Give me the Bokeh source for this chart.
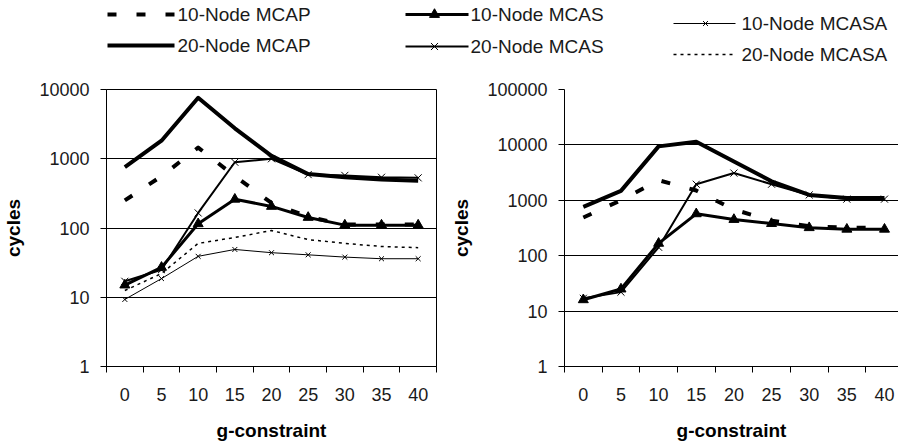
from bokeh.plotting import figure
from bokeh.layouts import column, row
from bokeh.models import Range1d, FixedTicker, PrintfTickFormatter
from bokeh.core.properties import value
from bokeh.embed import file_html
from bokeh.resources import INLINE

# ---------------- data ----------------
g_constraint = [0, 5, 10, 15, 20, 25, 30, 35, 40]
y_ticks_left = [1, 10, 100, 1000, 10000]
y_ticks_right = [1, 10, 100, 1000, 10000, 100000]

series_names = ["10-Node MCAP", "20-Node MCAP", "10-Node MCAS",
                "20-Node MCAS", "10-Node MCASA", "20-Node MCASA"]

left_10_mcap = [250, 560, 1450, 560, 230, 145, 112, 112, 112]
left_20_mcap = [760, 1820, 7600, 2750, 1100, 600, 540, 500, 480]
left_10_mcas = [15, 27, 115, 260, 205, 142, 110, 110, 110]
left_20_mcas = [17, 25, 165, 890, 1000, 590, 575, 540, 530]
left_10_mcasa = [9.3, 18.6, 39, 49, 44, 41, 38, 36, 36]
left_20_mcasa = [12.5, 22, 60, 73, 92, 68, 60, 54, 52]

right_10_mcap = [490, 1000, 2300, 1500, 680, 430, 340, 320, 320]
right_20_mcap = [760, 1480, 9400, 11400, 5000, 2200, 1250, 1100, 1100]
right_10_mcas = [16, 25, 167, 570, 450, 380, 320, 300, 300]
right_20_mcas = [17, 22, 142, 1950, 3100, 1950, 1250, 1050, 1050]

# ---------------- styles ----------------
FONT = "Liberation Sans"
TXT = "#1a1a1a"
styles = {
    "10-Node MCAP": dict(line_width=4, line_dash="9 20", marker=None),
    "20-Node MCAP": dict(line_width=4, line_dash="solid", marker=None),
    "10-Node MCAS": dict(line_width=3, line_dash="solid", marker="triangle", size=10),
    "20-Node MCAS": dict(line_width=2, line_dash="solid", marker="x", size=10),
    "10-Node MCASA": dict(line_width=1, line_dash="solid", marker="x", size=7),
    "20-Node MCASA": dict(line_width=1.5, line_dash="3 4", marker=None),
}


def draw_series(p, xs, ys, name):
    st = styles[name]
    p.line(xs, ys, line_color="black", line_width=st["line_width"],
           line_dash=st["line_dash"], line_join="round")
    if st["marker"]:
        p.scatter(xs, ys, marker=st["marker"], size=st["size"],
                  line_color="black", fill_color="black", line_width=1)


def make_chart(width, height, bl, br, bt, bb, x_end, y_ticks, series, outline):
    p = figure(width=width, height=height, y_axis_type="log",
               x_range=Range1d(-2.5, x_end),
               y_range=Range1d(y_ticks[0], y_ticks[-1]),
               output_backend="svg", toolbar_location=None,
               min_border_left=bl, min_border_right=br,
               min_border_top=bt, min_border_bottom=bb)
    p.background_fill_color = "white"
    p.border_fill_color = "white"
    p.outline_line_color = "black" if outline else None
    p.outline_line_width = 1

    for name, ys in series:
        draw_series(p, g_constraint, ys, name)

    bounds = [v - 2.5 for v in g_constraint] + [g_constraint[-1] + 2.5]
    xa = p.xaxis[0]
    xa.ticker = FixedTicker(ticks=g_constraint, minor_ticks=bounds)
    xa.major_tick_line_color = None
    xa.major_tick_out = 0
    xa.major_tick_in = 0
    xa.minor_tick_out = 6
    xa.minor_tick_in = 0
    xa.minor_tick_line_color = "black"
    xa.axis_line_color = "black"
    xa.major_label_text_font = FONT
    xa.major_label_text_font_size = "18px"
    xa.major_label_text_color = TXT
    xa.major_label_standoff = 15
    xa.axis_label = "g-constraint"
    xa.axis_label_text_font = FONT
    xa.axis_label_text_font_size = "19px"
    xa.axis_label_text_font_style = "bold"
    xa.axis_label_text_color = "black"
    xa.axis_label_standoff = 16

    ya = p.yaxis[0]
    ya.ticker = FixedTicker(ticks=y_ticks, minor_ticks=[])
    ya.formatter = PrintfTickFormatter(format="%d")
    ya.major_tick_out = 6
    ya.major_tick_in = 0
    ya.major_tick_line_color = "black"
    ya.minor_tick_line_color = None
    ya.axis_line_color = "black"
    ya.major_label_text_font = FONT
    ya.major_label_text_font_size = "18px"
    ya.major_label_text_color = TXT
    ya.major_label_standoff = 11
    ya.axis_label = "cycles"
    ya.axis_label_text_font = FONT
    ya.axis_label_text_font_size = "19px"
    ya.axis_label_text_font_style = "bold"
    ya.axis_label_text_color = "black"
    ya.axis_label_standoff = 12

    p.xgrid.grid_line_color = None
    p.ygrid.ticker = FixedTicker(ticks=y_ticks, minor_ticks=[])
    p.ygrid.grid_line_color = "black"
    p.ygrid.grid_line_width = 1
    p.ygrid.grid_line_alpha = 1.0
    return p


left = make_chart(448, 372, 106, 12, 15, 80, 42.5, y_ticks_left, [
    ("20-Node MCASA", left_20_mcasa),
    ("10-Node MCASA", left_10_mcasa),
    ("10-Node MCAP", left_10_mcap),
    ("20-Node MCAP", left_20_mcap),
    ("10-Node MCAS", left_10_mcas),
    ("20-Node MCAS", left_20_mcas),
], True)

right = make_chart(450, 372, 104, 0, 13, 78, 41.86, y_ticks_right, [
    ("10-Node MCAP", right_10_mcap),
    ("20-Node MCAP", right_20_mcap),
    ("10-Node MCAS", right_10_mcas),
    ("20-Node MCAS", right_20_mcas),
], False)

# ---------------- legend (page coordinates) ----------------
leg = figure(width=898, height=74, x_range=Range1d(0, 898), y_range=Range1d(74, 0),
             output_backend="svg", toolbar_location=None,
             x_axis_location=None, y_axis_location=None,
             min_border=0, min_border_left=0, min_border_right=0,
             min_border_top=0, min_border_bottom=0)
leg.grid.visible = False
leg.outline_line_color = None
leg.background_fill_color = "white"
leg.border_fill_color = "white"

legend_layout = [
    # name, x0, x1, y, marker x, text x
    ("10-Node MCAP", 107, 174, 14, None, 177),
    ("20-Node MCAP", 107, 174, 45, None, 177),
    ("10-Node MCAS", 405, 468, 14, 434, 470),
    ("20-Node MCAS", 405, 468, 46, 434, 470),
    ("10-Node MCASA", 673, 735, 23, 705, 741),
    ("20-Node MCASA", 673, 735, 54, None, 741),
]
for name, x0, x1, y, xm, xt in legend_layout:
    st = styles[name]
    leg.line([x0, x1], [y, y], line_color="black", line_width=st["line_width"],
             line_dash=st["line_dash"])
    if st["marker"] and xm is not None:
        leg.scatter([xm], [y], marker=st["marker"], size=st["size"],
                    line_color="black", fill_color="black")
    leg.text([xt], [y], text=[name], text_font=value(FONT),
             text_font_size=value("19px"), text_baseline="middle",
             text_align="left", text_color=TXT)

layout = column(leg, row(left, right))

with open("out.html", "w") as f:
    f.write(file_html(layout, INLINE))
